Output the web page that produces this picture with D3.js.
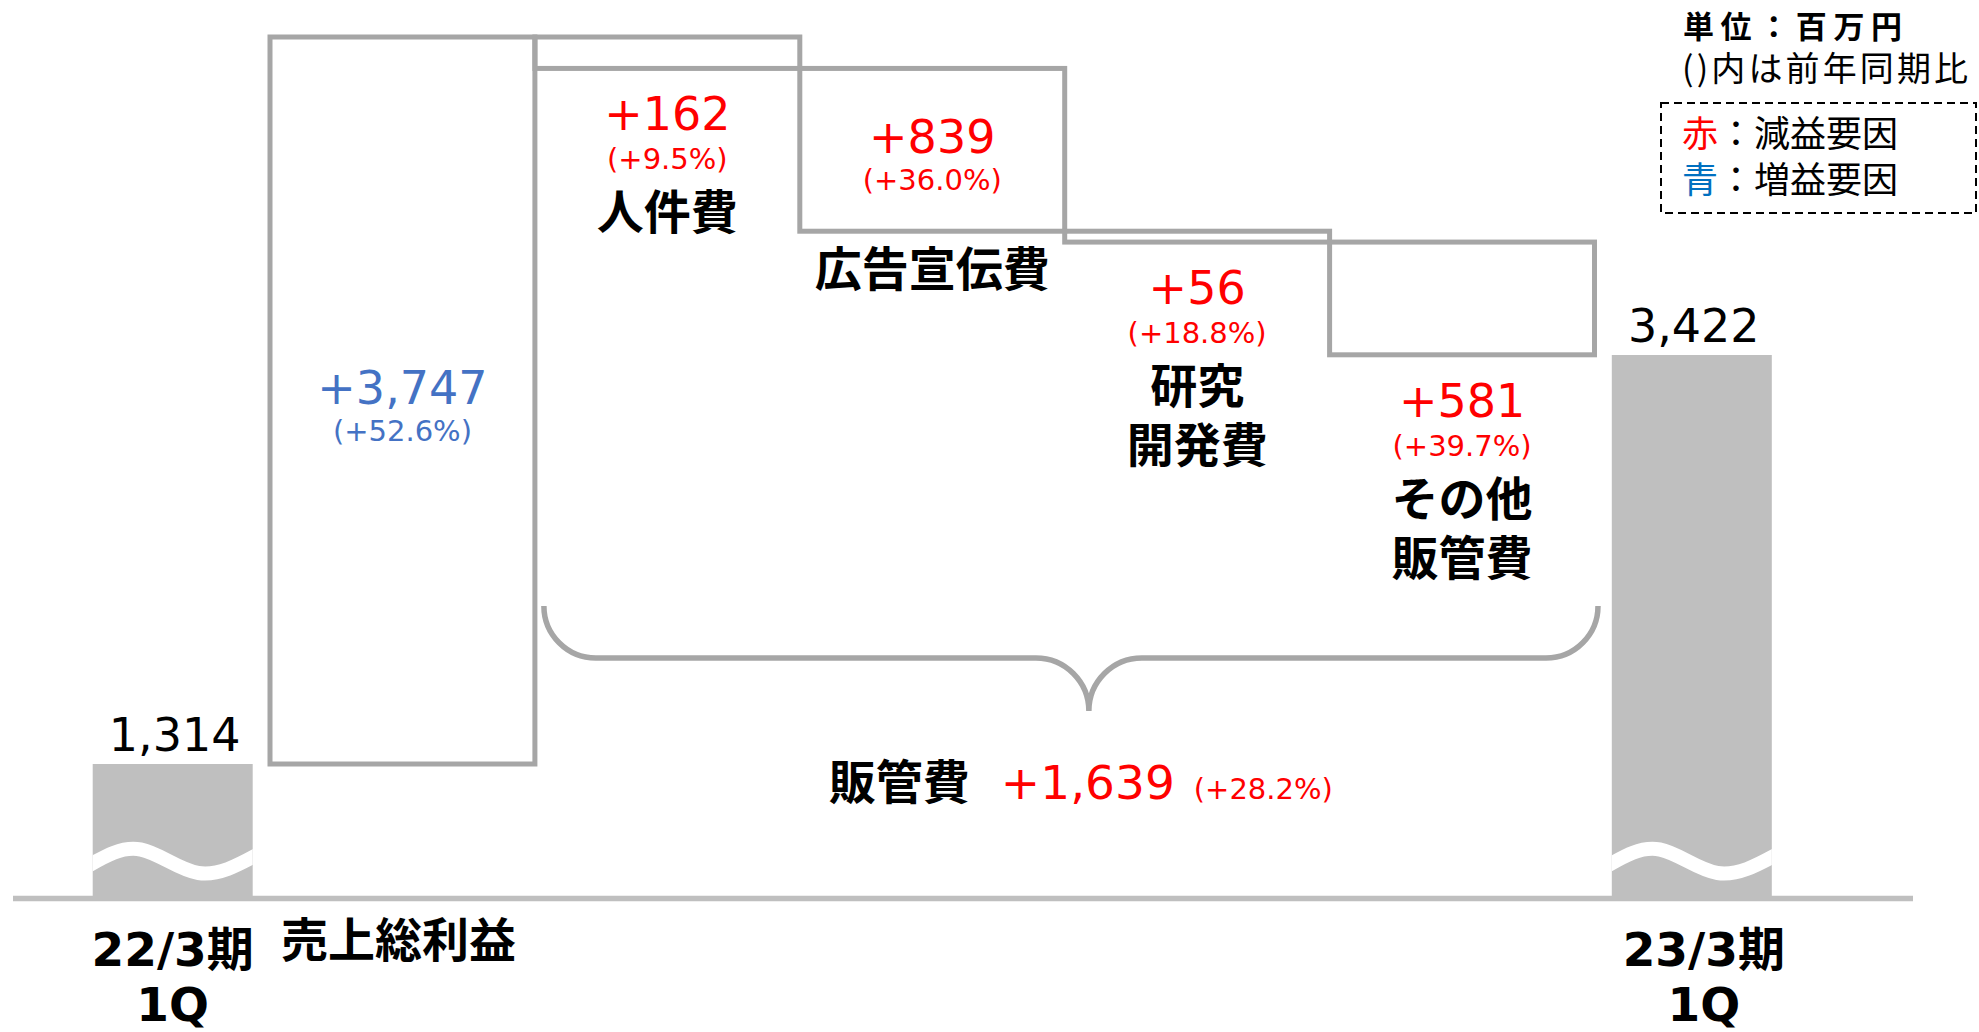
<!DOCTYPE html>
<html><head><meta charset="utf-8">
<script src="https://cdn.jsdelivr.net/npm/d3@7"></script>
<style>
html,body{margin:0;padding:0;background:#fff;}
svg{display:block;}
</style></head>
<body>
<svg id="chart" width="1979" height="1032"></svg>
<script>
// ---------------- data ----------------
const periodLines = [["22/3期", "1Q"], ["23/3期", "1Q"]];
const periodValues = [1314, 3422];
const stepNames = ["売上総利益", "人件費", "広告宣伝費", "研究開発費", "その他販管費"];
const stepLabelLines = [["売上総利益"], ["人件費"], ["広告宣伝費"], ["研究", "開発費"], ["その他", "販管費"]];
const stepValues = [3747, -162, -839, -56, -581];
const stepPct = ["+52.6%", "+9.5%", "+36.0%", "+18.8%", "+39.7%"];
const sgaName = "販管費";
const sgaValue = -1639;
const sgaPct = "+28.2%";
const unitLines = ["単位：百万円", "()内は前年同期比"];
const legendKeys = ["赤", "青"];
const legendTexts = ["：減益要因", "：増益要因"];

// ---------------- layout ----------------
const svg = d3.select("#chart");
const NUM = "'DejaVu Sans', 'Noto Sans CJK JP', sans-serif";
const CJK = "'Noto Sans CJK JP', sans-serif";
const RED = "#ff0000", BLUE = "#4472c4", LEG_BLUE = "#0070c0";
const GRAY_FILL = "#bfbfbf", GRAY_LINE = "#a6a6a6";

const baseY = 898.5;
const y = d3.scaleLinear()
  .domain([periodValues[0], periodValues[0] + stepValues[0]])
  .range([764, 37]);

const x = d3.scaleBand().domain(stepNames).range([270, 1594.5]).padding(0);
const bw = x.bandwidth();
const endW = 160, endGap = 17.3;
const periodX = [x(stepNames[0]) - endGap - endW, x(stepNames[stepNames.length - 1]) + bw + endGap];

const fmt = d3.format(",");
const valText = v => "+" + fmt(Math.abs(v));
const colorFor = v => v > 0 ? BLUE : RED;

// cumulative steps
let run = periodValues[0];
const steps = stepNames.map((n, i) => {
  const a = run; run += stepValues[i];
  return { name: n, i, a, b: run, v: stepValues[i] };
});

// ---------------- end bars (broken) ----------------
const defs = svg.append("defs");
periodValues.forEach((v, i) => {
  defs.append("clipPath").attr("id", "clip" + i)
    .append("rect").attr("x", periodX[i]).attr("y", y(v))
    .attr("width", endW).attr("height", baseY - y(v));
  svg.append("rect")
    .attr("x", periodX[i]).attr("y", y(v))
    .attr("width", endW).attr("height", baseY - y(v))
    .attr("fill", GRAY_FILL);
  // wave break
  const waveY = baseY - 41.5;
  const pts = [[-0.03, 9], [0.3, -7.5], [0.66, 16], [1.03, -2.5]]
    .map(([rx, dy]) => [periodX[i] + rx * endW, waveY + dy]);
  svg.append("path")
    .attr("d", d3.line().curve(d3.curveNatural)(pts))
    .attr("fill", "none").attr("stroke", "#fff").attr("stroke-width", 14)
    .attr("clip-path", "url(#clip" + i + ")");
  // value label
  svg.append("text")
    .attr("x", periodX[i] + endW / 2 + 2).attr("y", y(v) - 13)
    .attr("text-anchor", "middle").attr("font-family", NUM).attr("font-size", 46)
    .attr("fill", "#000").text(fmt(v));
  // period label
  periodLines[i].forEach((t, j) => {
    svg.append("text")
      .attr("x", periodX[i] + endW / 2 + (i === 1 ? 12 : 0)).attr("y", 966 + j * 55)
      .attr("text-anchor", "middle").attr("font-family", NUM).attr("font-weight", "bold")
      .attr("font-size", 47).attr("fill", "#000").text(t);
  });
});

// ---------------- step boxes ----------------
svg.selectAll("rect.step").data(steps).join("rect")
  .attr("class", "step")
  .attr("x", d => x(d.name))
  .attr("y", d => y(Math.max(d.a, d.b)))
  .attr("width", bw)
  .attr("height", d => Math.abs(y(d.a) - y(d.b)))
  .attr("fill", "none").attr("stroke", GRAY_LINE).attr("stroke-width", 5);

// baseline
svg.append("line").attr("x1", 13).attr("x2", 1913).attr("y1", baseY).attr("y2", baseY)
  .attr("stroke", GRAY_FILL).attr("stroke-width", 5.5);

// step labels
steps.forEach(d => {
  const cx = x(d.name) + bw / 2;
  const col = colorFor(d.v);
  const inside = Math.abs(d.v) >= 700;
  let numY, pctY, nameY;
  const top = y(Math.max(d.a, d.b)), bot = y(Math.min(d.a, d.b));
  if (inside) {
    const cy = (top + bot) / 2;
    numY = cy + 3; pctY = cy + 40; nameY = bot + 55;
  } else {
    numY = bot + 62; pctY = bot + 101; nameY = bot + 161;
  }
  svg.append("text").attr("x", cx).attr("y", numY).attr("text-anchor", "middle")
    .attr("font-family", NUM).attr("font-size", 46).attr("fill", col).text(valText(d.v));
  svg.append("text").attr("x", cx).attr("y", pctY).attr("text-anchor", "middle")
    .attr("font-family", NUM).attr("font-size", 29).attr("fill", col).text("(" + stepPct[d.i] + ")");
  if (d.i === 0) {
    svg.append("text").attr("x", cx - 4).attr("y", 957).attr("text-anchor", "middle")
      .attr("font-family", CJK).attr("font-weight", "bold").attr("font-size", 47)
      .attr("fill", "#000").text(stepLabelLines[0][0]);
  } else {
    stepLabelLines[d.i].forEach((t, j) => {
      svg.append("text").attr("x", cx).attr("y", nameY + j * 59).attr("text-anchor", "middle")
        .attr("font-family", CJK).attr("font-weight", "bold").attr("font-size", 47)
        .attr("fill", "#000").text(t);
    });
  }
});

// ---------------- brace ----------------
const bL = x(stepNames[1]) + 9, bR = x(stepNames[stepNames.length - 1]) + bw + 3.5;
const bTop = 606, bMid = 658, bTip = 711, r = 52, rt = 53;
const bX = bL + (bR - bL) * 0.517;
const braceD = `M${bL},${bTop} A${r},${r} 0 0 0 ${bL + r},${bMid} L${bX - rt},${bMid} ` +
  `A${rt},${rt} 0 0 1 ${bX},${bTip} A${rt},${rt} 0 0 1 ${bX + rt},${bMid} ` +
  `L${bR - r},${bMid} A${r},${r} 0 0 0 ${bR},${bTop}`;
svg.append("path").attr("d", braceD).attr("fill", "none")
  .attr("stroke", GRAY_LINE).attr("stroke-width", 5.5);

const sga = svg.append("text").attr("x", bX - 8).attr("y", bTip + 88).attr("text-anchor", "middle");
sga.append("tspan").attr("font-family", CJK).attr("font-weight", "bold").attr("font-size", 47)
  .attr("fill", "#000").text(sgaName);
sga.append("tspan").attr("dx", 31).attr("font-family", NUM).attr("font-size", 47)
  .attr("fill", RED).text(valText(sgaValue));
sga.append("tspan").attr("dx", 19).attr("font-family", NUM).attr("font-size", 29)
  .attr("fill", RED).text("(" + sgaPct + ")");

// ---------------- unit & legend ----------------
svg.append("text").attr("x", 1683).attr("y", 38).attr("font-family", CJK)
  .attr("font-weight", "bold").attr("font-size", 31).attr("textLength", 219)
  .attr("lengthAdjust", "spacing").attr("fill", "#000").text(unitLines[0]);
svg.append("text").attr("x", 1682).attr("y", 81).attr("font-family", CJK)
  .attr("font-size", 34).attr("textLength", 286).attr("lengthAdjust", "spacing")
  .attr("fill", "#000").text(unitLines[1]);
svg.append("rect").attr("x", 1661).attr("y", 103).attr("width", 315).attr("height", 110)
  .attr("fill", "none").attr("stroke", "#000").attr("stroke-width", 2)
  .attr("stroke-dasharray", "8,5");
legendKeys.forEach((k, i) => {
  const t = svg.append("text").attr("x", 1682).attr("y", 147 + i * 46)
    .attr("font-family", CJK).attr("font-size", 36);
  t.append("tspan").attr("fill", i === 0 ? RED : LEG_BLUE).text(k);
  t.append("tspan").attr("fill", "#000").text(legendTexts[i]);
});
</script>
</body></html>
